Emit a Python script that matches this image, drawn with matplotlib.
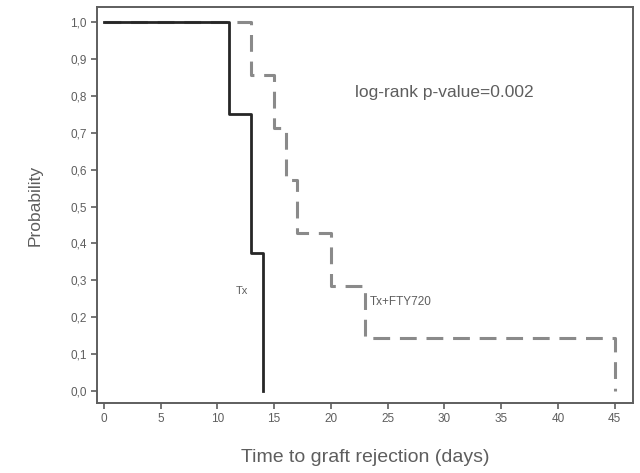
import matplotlib
matplotlib.use('Agg')
import matplotlib.pyplot as plt

plt.rcParams['font.family'] = ['Liberation Sans', 'DejaVu Sans']

# Kaplan-Meier steps
tx_times = [0, 11, 13, 14]
tx_surv = [1.0, 0.75, 0.375, 0.0]

fty_times = [0, 13, 15, 16, 17, 20, 23, 45]
fty_surv = [1.0, 0.857, 0.714, 0.571, 0.429, 0.286, 0.143, 0.0]

x_ticks = [0, 5, 10, 15, 20, 25, 30, 35, 40, 45]
y_ticks = [0.0, 0.1, 0.2, 0.3, 0.4, 0.5, 0.6, 0.7, 0.8, 0.9, 1.0]
y_labels = ['0,0', '0,1', '0,2', '0,3', '0,4', '0,5', '0,6', '0,7', '0,8', '0,9', '1,0']

grey = '#5e5e5e'

fig = plt.figure(figsize=(6.4, 4.73), dpi=100)
ax = fig.add_axes([0.1516, 0.148, 0.8374, 0.837])

# Tx + FTY720 (dashed grey), drawn first so the black line sits on top
ax.step(fty_times, fty_surv, where='post', color='#8a8a8a', linewidth=2.2,
        linestyle=(0, (5.5, 3.2)))
# Tx (solid black)
ax.step(tx_times, tx_surv, where='post', color='#262626', linewidth=2.0)

ax.set_xlim(-0.6, 46.6)
ax.set_ylim(-0.0325, 1.0407)
ax.set_xticks(x_ticks)
ax.set_yticks(y_ticks)
ax.set_yticklabels(y_labels)
ax.tick_params(direction='out', length=4, width=1.2, color=grey,
               labelcolor=grey, labelsize=8.5)

for side in ['left', 'right', 'top', 'bottom']:
    ax.spines[side].set_color(grey)
    ax.spines[side].set_linewidth(1.4)

ax.set_xlabel('Time to graft rejection (days)', fontsize=14, color=grey,
              labelpad=17)
ax.set_ylabel('Probability', fontsize=12.5, color=grey, labelpad=20)

ax.text(22.1, 0.81, 'log-rank p-value=0.002', fontsize=12.5, color=grey,
        va='center', ha='left')
ax.text(12.2, 0.27, 'Tx', fontsize=8, color=grey, va='center', ha='center')
ax.text(23.4, 0.242, 'Tx+FTY720', fontsize=8.5, color=grey, va='center',
        ha='left')

fig.savefig('out.png', dpi=100)
